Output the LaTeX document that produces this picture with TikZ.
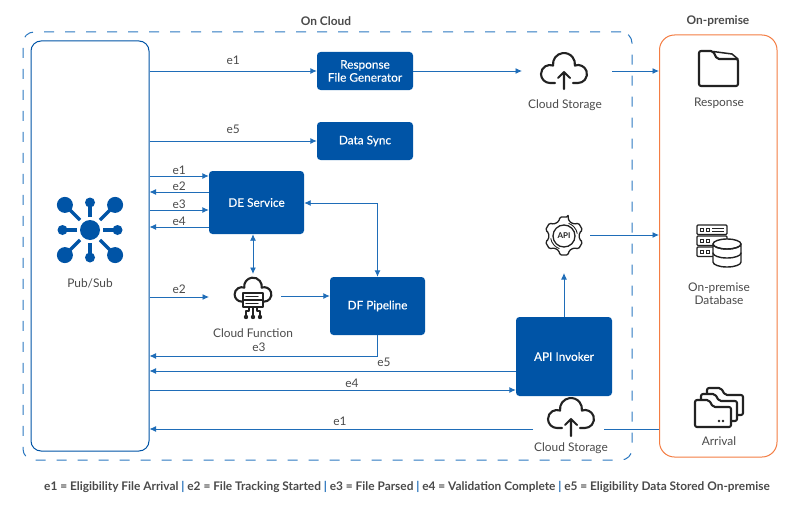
\documentclass[tikz,border=0pt]{standalone}
\usepackage{fontspec}
\setmainfont{Lato}
\newfontfamily\medfont[FakeBold=0.35]{Lato}
\usetikzlibrary{arrows.meta}
\definecolor{boxblue}{HTML}{0054A6}
\definecolor{lineblue}{HTML}{1F6DB8}
\definecolor{dashblue}{HTML}{2B78C0}
\definecolor{edgeorange}{HTML}{F47D43}
\definecolor{textgrey}{HTML}{4A4A4A}
\definecolor{icondark}{HTML}{222222}
\tikzset{
	>={Latex[length=6.5pt,width=6pt]},
	flow/.style={lineblue,line width=0.9pt},
	svcbox/.style={fill=boxblue,rounded corners=3.5pt,text=white,align=center,inner sep=0pt,font=\fontsize{11.8}{13}\selectfont\medfont},
	evlabel/.style={text=textgrey,inner sep=1pt,font=\fontsize{11.9}{12}\selectfont},
	iconlabel/.style={text=textgrey,inner sep=0pt,align=center,font=\fontsize{11.9}{13}\selectfont},
	headlabel/.style={text=textgrey,inner sep=0pt,font=\fontsize{11.9}{13}\selectfont\bfseries},
	icon/.style={icondark,line width=2.1pt,line cap=round,line join=round},
	pics/cloudline/.style={code={
		\draw[icon,yscale=-1] (-9,-12) -- (-14,-12) arc(-90:-290:9) arc(188:-8:11) arc(110.3:-90:9) -- (9,-12);
	}},
	pics/uparrow/.style={code={
		\draw[icon,yscale=-1] (0,-18) -- (0,-1) (-6,-7) -- (0,-1) -- (6,-7);
	}},
	pics/folderline/.style={code={
		\draw[icon,fill=white,rounded corners=2pt] (0,0) -- (14,0) -- (18,7) -- (36,7) -- (36,27) -- (0,27) -- cycle;
	}}
}
\begin{document}
\begin{tikzpicture}[x=1pt,y=-1pt]
	\useasboundingbox (0,0) rectangle (800,511);

	% frames
	\node[draw=dashblue,line width=1pt,dash pattern=on 10pt off 11pt,rounded corners=11pt,minimum width=609pt,minimum height=428pt,inner sep=0pt] (oncloud) at (327.5,246) {};
	\node[draw=boxblue,line width=1pt,fill=white,rounded corners=10pt,minimum width=118pt,minimum height=410pt,inner sep=0pt] (pubsub) at (90,246) {};
	\node[draw=edgeorange,line width=1pt,fill=white,rounded corners=15pt,minimum width=117.5pt,minimum height=422pt,inner sep=0pt] (onprem) at (718.25,246) {};
	\node[headlabel] (cloudhead) at (326,21) {On Cloud};
	\node[headlabel] (premhead) at (718,21) {On-premise};

	% services
	\node[svcbox,minimum width=96pt,minimum height=38pt] (respgen) at (365,71) {Response\\File Generator};
	\node[svcbox,minimum width=96pt,minimum height=38pt] (datasync) at (365,141) {Data Sync};
	\node[svcbox,minimum width=95pt,minimum height=63pt] (desvc) at (256.5,202.5) {DE Service};
	\node[svcbox,minimum width=95pt,minimum height=58pt] (dfpipe) at (377.5,306) {DF Pipeline};
	\node[svcbox,minimum width=96pt,minimum height=79pt] (apiinv) at (564,356.5) {API Invoker};

	% pub/sub hub
	\begin{scope}[shift={(90,230)}]
		\fill[boxblue] (0,0) circle (10);
		\foreach \a in {45,135,225,315} {
			\draw[boxblue,line width=3.2pt] (\a:14) -- (\a:28);
			\fill[boxblue] (\a:35.5) circle (8);
		}
		\foreach \a in {0,90,180,270} {
			\draw[boxblue,line width=3.2pt] (\a:13) -- (\a:24);
			\fill[boxblue] (\a:27.5) circle (5);
		}
	\end{scope}
	\node[iconlabel] (pubsublabel) at (90,283.5) {Pub/Sub};

	% cloud storage, top and bottom
	\pic at (564,71) {cloudline};
	\pic at (564,71) {uparrow};
	\node[iconlabel] (storageout) at (565,105) {Cloud Storage};
	\pic at (571,416) {cloudline};
	\pic at (571,418) {uparrow};
	\node[iconlabel] (storagein) at (571,448) {Cloud Storage};

	% cloud function
	\pic[scale=0.8] at (253,292) {cloudline};
	\draw[icon,line width=1.3pt,fill=white] (243,293) rectangle (263,307);
	\draw[icon,line width=1.2pt] (243,300) -- (263,300) (246,296.5) -- (258,296.5) (246,303.5) -- (258,303.5);
	\draw[icon,line width=1.3pt] (253,307) -- (253,317) (249,307) -- (249,311) -- (246,311) -- (246,317) (257,307) -- (257,311) -- (260,311) -- (260,317);
	\foreach \x in {246,253,260} \fill[icondark] (\x,317) circle (2.2);
	\node[iconlabel] (funclabel) at (253,333) {Cloud Function};

	% api gear
	\begin{scope}[shift={(564,236)},yscale=-1]
		\draw[icondark,line width=1.3pt,line join=round,rounded corners=1.5pt] (78:19.5) \foreach \a in {90,150,210,270,330,390} { -- (\a-12:19.5) -- (\a+12:19.5) -- (\a+19:15.5) -- (\a+41:15.5)} -- cycle;
		\draw[icondark,line width=1.3pt] (0,0) circle (11);
		\draw[icondark,line width=0.9pt] (70:13.5) arc(70:10:13.5) (250:13.5) arc(250:190:13.5);
	\end{scope}
	\node[text=icondark,inner sep=0pt,font=\fontsize{8}{8}\selectfont\bfseries] (apitext) at (564,236) {API};

	% response folder
	\draw[icon,rounded corners=2pt] (699,51) -- (713,51) -- (717,59) -- (738,59) -- (738,86) -- (699,86) -- cycle;
	\draw[icon,line width=1.5pt] (713,51.5) -- (732,54) -- (738,59);
	\node[iconlabel] (resplabel) at (719,103) {Response};

	% on-premise database
	\foreach \y in {225,236,247} {
		\draw[icon,line width=1.3pt,rounded corners=1pt] (697,\y) rectangle (727,\y+9.5);
		\draw[icondark,line width=0.9pt] (700.5,\y+3) rectangle (703.5,\y+6.5) (706,\y+3) rectangle (709,\y+6.5);
	}
	\draw[icondark,line width=0.8pt] (712,228.5) -- (724,228.5) (712,231.5) -- (724,231.5);
	\begin{scope}[shift={(727,244)},yscale=-1]
		\draw[icon,line width=1.4pt,fill=white] (-14,0) -- (-14,-18) arc(180:360:14 and 5) -- (14,0) arc(0:360:14 and 5);
		\draw[icon,line width=1.4pt] (-14,0) arc(180:360:14 and 5) (-14,-9) arc(180:360:14 and 5);
	\end{scope}
	\node[iconlabel] (dblabel) at (719,294) {On-premise\\Database};

	% arrival folders
	\pic at (707,388) {folderline};
	\pic at (701,394) {folderline};
	\pic at (695,400) {folderline};
	\foreach \x in {719,723} \fill[icondark] (\x,421) circle (1.3);
	\node[iconlabel] (arrlabel) at (719,441) {Arrival};

	% free ends at the icons
	\coordinate (storeoutw) at (522,71);
	\coordinate (storeoute) at (612,71);
	\coordinate (storeinw) at (533,429);
	\coordinate (storeine) at (604,429);
	\coordinate (funcw) at (209,297);
	\coordinate (funce) at (281,296);
	\coordinate (functop) at (253,274);
	\coordinate (gearbot) at (564,273);
	\coordinate (geare) at (590,235);
	\coordinate (deturn) at (377.5,203);
	\coordinate (dfturn) at (377.5,356);

	% events
	\draw[flow,->] (pubsub.east |- respgen.west) -- (respgen.west) node[evlabel,midway,above=5pt] (evA) {e1};
	\draw[flow,->] (pubsub.east |- datasync.west) -- (datasync.west) node[evlabel,midway,above=5.5pt] (evB) {e5};
	\foreach \dy/\lbl/\dir in {26.5/e1/<-,10.5/e2/->,-7.5/e3/<-,-24.5/e4/->} {
		\draw[flow,\dir] ([yshift=\dy pt]desvc.west) -- ([yshift=\dy pt]desvc.west -| pubsub.east) node[evlabel,midway,above=0.2pt] (ev\lbl) {\lbl};
	}
	\draw[flow,->] (pubsub.east |- funcw) -- (funcw) node[evlabel,midway,above=2pt] (evC) {e2};
	\draw[flow,->] (dfpipe.south) -- (dfturn) -- (dfturn -| pubsub.east);
	\node[evlabel] (evD) at (259,347.5) {e3};
	\draw[flow,->] (apiinv.west |- 0,371) -- (pubsub.east |- 0,371);
	\node[evlabel] (evE) at (384,362.5) {e5};
	\draw[flow,->] (pubsub.east |- 0,390) -- (apiinv.west |- 0,390);
	\node[evlabel] (evF) at (352,383.5) {e4};
	\draw[flow,->] (storeinw) -- (storeinw -| pubsub.east);
	\node[evlabel] (evG) at (340,421.5) {e1};
	\draw[flow] (onprem.west |- storeine) -- (storeine);

	% links between services
	\draw[flow,->] (respgen.east) -- (storeoutw);
	\draw[flow,->] (storeoute) -- (storeoute -| onprem.west);
	\draw[flow,<->] (desvc.south -| functop) -- (functop);
	\draw[flow,<->] (desvc.east |- deturn) -- (deturn) -- (dfpipe.north);
	\draw[flow,->] (funce) -- (funce -| dfpipe.west);
	\draw[flow,->] (apiinv.north) -- (gearbot);
	\draw[flow,->] (geare) -- (geare -| onprem.west);

	% legend
	\node[text=textgrey,inner sep=0pt,font=\fontsize{11.87}{13}\selectfont\bfseries] (legend) at (407,487) {e1 = Eligibility File Arrival \textcolor{lineblue}{|} e2 = File Tracking Started \textcolor{lineblue}{|} e3 = File Parsed \textcolor{lineblue}{|} e4 = Validation Complete \textcolor{lineblue}{|} e5 = Eligibility Data Stored On-premise};
\end{tikzpicture}
\end{document}
